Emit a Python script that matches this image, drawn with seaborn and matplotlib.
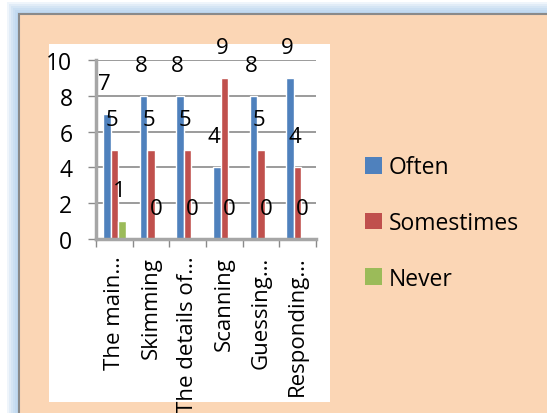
import numpy as np
import pandas as pd
import matplotlib.pyplot as plt
from matplotlib.patches import Rectangle
import seaborn as sns

# Data
categories = ['The main…', 'Skimming', 'The details of…', 'Scanning', 'Guessing…', 'Responding…']
often = [7, 8, 8, 4, 8, 9]
sometimes = [5, 5, 5, 9, 5, 4]
never = [1, 0, 0, 0, 0, 0]
series = ['Often', 'Somestimes', 'Never']
colors = ['#4F81BD', '#C0504D', '#9BBB59']
yticks = [0, 2, 4, 6, 8, 10]

df = pd.DataFrame({'category': categories, 'Often': often,
                   'Somestimes': sometimes, 'Never': never})
df = df.melt(id_vars='category', var_name='series', value_name='value')

sns.set_style('white')
plt.rcParams['font.family'] = ['Open Sans', 'DejaVu Sans']
plt.rcParams['text.color'] = 'black'
plt.rcParams['xtick.color'] = 'black'
plt.rcParams['ytick.color'] = 'black'

W, H = 547, 414
fig = plt.figure(figsize=(W / 100, H / 100), dpi=100)
fig.patch.set_facecolor('white')


def px(x, y, w, h):
    # pixel box (top-left origin) -> figure fraction box
    return (x / W, 1 - (y + h) / H, w / W, h / H)


# soft blue glow behind the frame
for i in range(7):
    d = 2 * i
    x0, y0, w, h = px(19 - d, 15 - d, 600, 500)
    fig.patches.append(Rectangle((x0, y0), w, h, transform=fig.transFigure,
                                 facecolor='#9CC3E8', edgecolor='none', alpha=0.16, zorder=0))

# peach frame
x0, y0, w, h = px(19, 15, 600, 500)
fig.patches.append(Rectangle((x0, y0), w, h, transform=fig.transFigure,
                             facecolor='#FBD6B5', edgecolor='#8A8A8A', lw=1.5, zorder=1))

# white chart area
x0, y0, w, h = px(49, 45, 281, 358)
fig.patches.append(Rectangle((x0, y0), w, h, transform=fig.transFigure,
                             facecolor='white', edgecolor='none', zorder=2))

ax = fig.add_axes(px(96, 61, 220, 179))
ax.set_zorder(5)
ax.set_facecolor('none')

sns.barplot(data=df, x='category', y='value', hue='series', hue_order=series,
            palette=colors, saturation=1, width=0.62, errorbar=None, ax=ax)

# data labels
for cont in ax.containers:
    for bar in cont:
        v = bar.get_height()
        ax.text(bar.get_x() + bar.get_width() / 2 - 2.5 / 36, v + 1.7, f'{v:.0f}',
                ha='center', va='center', fontsize=16, color='black', clip_on=False)

ax.set_ylim(0, 10)
ax.set_yticks(yticks)
ax.set_xlim(-0.5, len(categories) - 0.5)
ax.set_xticks(np.arange(-0.5, len(categories), 1), minor=True)
ax.set_xlabel('')
ax.set_ylabel('')
ax.tick_params(axis='y', labelsize=16.5, length=6, width=1, color='#8A8A8A',
               labelcolor='black', pad=11, left=True)
ax.tick_params(axis='x', which='major', labelsize=16, labelrotation=90, length=0,
               labelcolor='black', pad=12)
ax.tick_params(axis='x', which='minor', length=6, width=1, color='#8A8A8A', bottom=True)

ax.yaxis.grid(True, color='#8A8A8A', lw=1.2)
ax.set_axisbelow(True)
for s in ['top', 'right']:
    ax.spines[s].set_visible(False)
for s in ['left', 'bottom']:
    ax.spines[s].set_color('#A6A6A6')
    ax.spines[s].set_linewidth(2.5)

handles, labels = ax.get_legend_handles_labels()
ax.get_legend().remove()
for hd in handles:
    hd.set_edgecolor('none')
leg = fig.legend(handles, labels, loc='center left', bbox_to_anchor=(356 / W, 1 - 224 / H),
                 frameon=False, fontsize=16.5, handlelength=0.72, handleheight=0.72,
                 handletextpad=0.3, labelspacing=1.38, borderaxespad=0)
for t in leg.get_texts():
    t.set_color('black')

fig.savefig('out.png', dpi=100)
